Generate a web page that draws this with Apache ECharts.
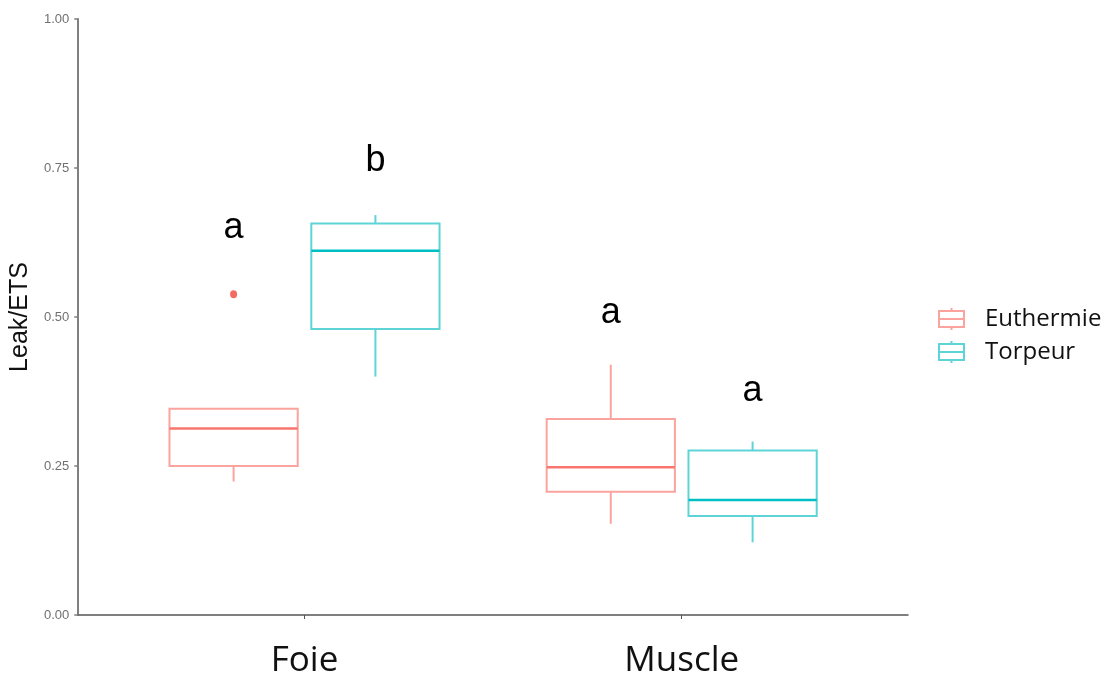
<!DOCTYPE html>
<html>
<head>
<meta charset="utf-8">
<script src="https://cdn.jsdelivr.net/npm/echarts@6/dist/echarts.min.js"></script>
<style>html,body{margin:0;padding:0;background:#fff}#main{width:1110px;height:679px}</style>
</head>
<body>
<div id="main"></div>
<script>
// ---- data ----
const categories = ['Foie', 'Muscle'];
const groups = ['Euthermie', 'Torpeur'];
// [min, Q1, median, Q3, max] per category
const euthermieStats = [[0.224, 0.250, 0.313, 0.346, 0.346], [0.153, 0.207, 0.248, 0.329, 0.420]];
const torpeurStats = [[0.400, 0.480, 0.611, 0.657, 0.671], [0.122, 0.166, 0.193, 0.276, 0.291]];
// outliers: [category index, value]
const euthermieOutliers = [[0, 0.538]];
const torpeurOutliers = [];
// significance letters per category and group, and their heights (data units)
const euthermieLetters = ['a', 'a'];
const torpeurLetters = ['b', 'a'];
const euthermieLetterY = [0.650, 0.507];
const torpeurLetterY = [0.761, 0.375];
const yTicks = [0, 0.25, 0.5, 0.75, 1];

// ---- styling ----
const colors = { Euthermie: '#F8766D', Torpeur: '#00BFC4' };
const lightColors = { Euthermie: '#FBA39D', Torpeur: '#5FD4D7' };
const dodge = { Euthermie: -0.188, Torpeur: 0.188 };
const halfWidth = 0.17;

function boxSeries(name, stats) {
  return {
    type: 'custom',
    name: name,
    xAxisIndex: 0, yAxisIndex: 0,
    data: stats.map((s, i) => [i + 1].concat(s)),
    encode: { x: 0, y: [1, 2, 3, 4, 5] },
    renderItem: function (params, api) {
      const x = api.value(0) + dodge[name];
      const vMin = api.value(1), q1 = api.value(2), med = api.value(3), q3 = api.value(4), vMax = api.value(5);
      const pMin = api.coord([x, vMin]), pQ1 = api.coord([x, q1]), pMed = api.coord([x, med]);
      const pQ3 = api.coord([x, q3]), pMax = api.coord([x, vMax]);
      const hw = api.size([halfWidth, 0])[0];
      const light = { stroke: lightColors[name], lineWidth: 2, fill: null };
      const children = [
        { type: 'line', shape: { x1: pQ3[0], y1: pQ3[1], x2: pMax[0], y2: pMax[1] }, style: light },
        { type: 'line', shape: { x1: pQ1[0], y1: pQ1[1], x2: pMin[0], y2: pMin[1] }, style: light },
        { type: 'rect', shape: { x: pQ3[0] - hw, y: pQ3[1], width: 2 * hw, height: pQ1[1] - pQ3[1] }, style: { stroke: lightColors[name], lineWidth: 2, fill: 'rgba(255,255,255,0)' } },
        { type: 'line', shape: { x1: pMed[0] - hw, y1: pMed[1], x2: pMed[0] + hw, y2: pMed[1] }, style: { stroke: colors[name], lineWidth: 2.5 } }
      ];
      return { type: 'group', children: children };
    },
    z: 2
  };
}

function outlierSeries(name, outs) {
  return {
    type: 'scatter',
    name: name + ' outliers',
    data: outs.map(o => [o[0] + 1 + dodge[name], o[1]]),
    symbol: 'circle',
    symbolSize: [7, 8],
    itemStyle: { color: '#F46B62', opacity: 1 },
    silent: true,
    z: 3
  };
}

function letterSeries(name, letters, ys) {
  return {
    type: 'scatter',
    name: name + ' letters',
    data: letters.map((l, i) => [i + 1 + dodge[name], ys[i], l]),
    symbolSize: 0,
    itemStyle: { opacity: 1 },
    label: {
      show: true, position: 'inside',
      formatter: p => p.value[2],
      fontSize: 36, color: '#000', opacity: 1, fontFamily: 'Liberation Sans, Arial, sans-serif'
    },
    silent: true,
    z: 4
  };
}

const legendIcon = 'path://M12.5,0V3M0,3H25V19H0ZM0,11H25M12.5,19V22';

const chart = echarts.init(document.getElementById('main'), null, { renderer: 'canvas' });
chart.setOption({
  animation: false,
  backgroundColor: '#ffffff',
  grid: { left: 78, right: 202, top: 19, bottom: 62 },
  xAxis: {
    type: 'value',
    min: 0.4, max: 2.6,
    splitLine: { show: false },
    axisLine: { show: true, lineStyle: { color: '#555', width: 1.5 } },
    axisTick: { show: true, length: 4, customValues: categories.map((c, i) => i + 1), lineStyle: { color: '#555' } },
    axisLabel: {
      show: true, customValues: categories.map((c, i) => i + 1),
      formatter: v => categories[Math.round(v) - 1] || '',
      fontSize: 35, color: '#111', fontFamily: 'Open Sans, sans-serif', margin: 29
    }
  },
  yAxis: {
    type: 'value',
    min: yTicks[0], max: yTicks[yTicks.length - 1], interval: 0.25,
    name: 'Leak/ETS', nameLocation: 'middle', nameRotate: 90, nameGap: 44,
    nameTextStyle: { fontSize: 25, color: '#111', fontFamily: 'Liberation Sans, Arial, sans-serif' },
    splitLine: { show: false },
    axisLine: { show: true, lineStyle: { color: '#808080', width: 2 } },
    axisTick: { show: true, length: 4, lineStyle: { color: '#808080', width: 1.5 } },
    axisLabel: {
      formatter: v => v.toFixed(2), fontSize: 13, color: '#707070',
      fontFamily: 'Liberation Sans, Arial, sans-serif', margin: 9
    }
  },
  legend: {
    orient: 'vertical',
    left: 938, top: 307,
    padding: 0,
    itemWidth: 25, itemHeight: 22, itemGap: 9,
    icon: legendIcon,
    data: groups.map(g => ({
      name: g,
      icon: legendIcon,
      itemStyle: { color: 'rgba(255,255,255,0)', borderColor: lightColors[g], borderWidth: 2 }
    })),
    textStyle: { fontSize: 24, color: '#111', fontFamily: 'Open Sans, sans-serif', padding: [0, 0, 0, 16] }
  },
  series: [
    boxSeries('Euthermie', euthermieStats),
    boxSeries('Torpeur', torpeurStats),
    outlierSeries('Euthermie', euthermieOutliers),
    outlierSeries('Torpeur', torpeurOutliers),
    letterSeries('Euthermie', euthermieLetters, euthermieLetterY),
    letterSeries('Torpeur', torpeurLetters, torpeurLetterY)
  ]
});
</script>
</body>
</html>
